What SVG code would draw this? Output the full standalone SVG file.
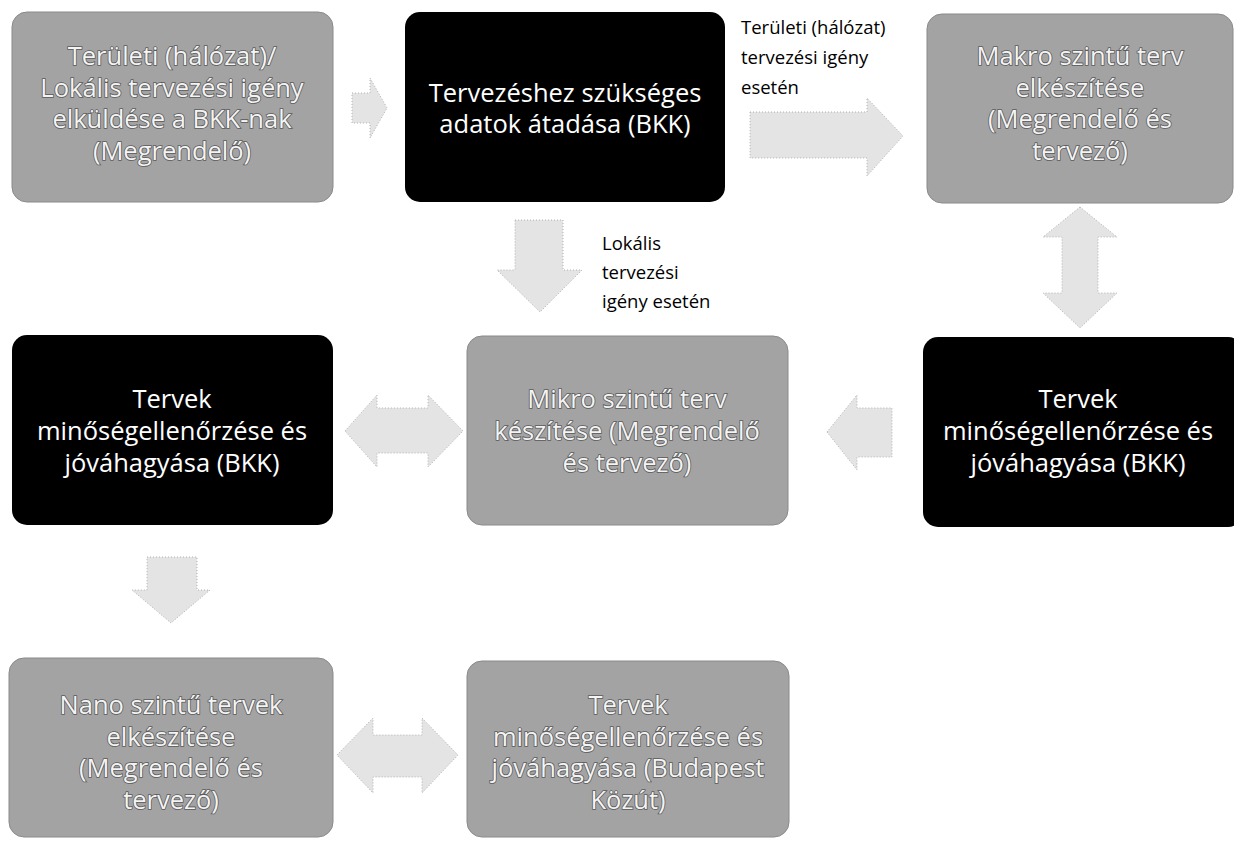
<svg xmlns="http://www.w3.org/2000/svg" width="1234" height="846" viewBox="0 0 1234 846">
<defs>
<style>
.box-gray{fill:#a3a3a3;stroke:#8a8a8a;stroke-width:1}
.box-black{fill:#000000}
.t{font-family:"Open Sans","Noto Sans","DejaVu Sans",sans-serif;font-size:25.5px;text-anchor:middle}
.tw{fill:#ffffff}
.tg{fill:#f4f4f4;stroke:#5a5a5a;stroke-width:1.6;paint-order:stroke}
.lbl{font-family:"Open Sans","Noto Sans","DejaVu Sans",sans-serif;font-size:18.5px;fill:#000000}
.arrow{fill:#e4e4e4;stroke:#b0b0b0;stroke-width:1;stroke-dasharray:1 2}
</style>
</defs>
<rect width="1234" height="846" fill="#ffffff"/>

<g id="connectors">
<polygon class="arrow" points="352,93 370,93 370,78 387,108 370,138 370,123 352,123"/>
<polygon class="arrow" points="750,112 867,112 867,98 903,136 867,176 867,158 750,158"/>
<polygon class="arrow" points="515,220 563,220 563,270 582,270 540,312 497,270 515,270"/>
<polygon class="arrow" points="1080,207 1117,237 1098,237 1098,293 1117,293 1080,328 1043,293 1062,293 1062,237 1043,237"/>
<polygon class="arrow" points="827,432 857,395 857,408 892,408 892,457 857,457 857,470"/>
<polygon class="arrow" points="345,431 377,395 377,408 428,408 428,395 463,431 428,467 428,453 377,453 377,467"/>
<polygon class="arrow" points="147,557 197,557 197,590 210,590 171,623 132,590 147,590"/>
<polygon class="arrow" points="337,755 373,718 373,735 422,735 422,718 458,755 422,793 422,777 373,777 373,793"/>
<g id="connector-labels">
<text class="lbl" x="741" y="34">Területi (hálózat)</text>
<text class="lbl" x="741" y="64">tervezési igény</text>
<text class="lbl" x="741" y="94">esetén</text>
<text class="lbl" x="602" y="250">Lokális</text>
<text class="lbl" x="602" y="279">tervezési</text>
<text class="lbl" x="602" y="308">igény esetén</text>
</g>
</g>

<g id="node1">
<rect class="box-gray" x="12" y="12" width="321" height="190" rx="15"/>
<text class="t tg" x="172" y="65">Területi (hálózat)/</text>
<text class="t tg" x="172" y="97">Lokális tervezési igény</text>
<text class="t tg" x="172" y="128">elküldése a BKK-nak</text>
<text class="t tg" x="172" y="160">(Megrendelő)</text>
</g>

<g id="node2">
<rect class="box-black" x="405" y="12" width="320" height="190" rx="15"/>
<text class="t tw" x="565" y="102">Tervezéshez szükséges</text>
<text class="t tw" x="565" y="133">adatok átadása (BKK)</text>
</g>

<g id="node3">
<rect class="box-gray" x="927" y="14" width="306" height="189" rx="15"/>
<text class="t tg" x="1080" y="65">Makro szintű terv</text>
<text class="t tg" x="1080" y="97">elkészítése</text>
<text class="t tg" x="1080" y="128">(Megrendelő és</text>
<text class="t tg" x="1080" y="160">tervező)</text>
</g>

<g id="node4">
<rect class="box-black" x="12" y="335" width="321" height="190" rx="15"/>
<text class="t tw" x="172" y="408">Tervek</text>
<text class="t tw" x="172" y="440">minőségellenőrzése és</text>
<text class="t tw" x="172" y="472">jóváhagyása (BKK)</text>
</g>

<g id="node5">
<rect class="box-gray" x="467" y="336" width="321" height="189" rx="15"/>
<text class="t tg" x="627" y="408">Mikro szintű terv</text>
<text class="t tg" x="627" y="440">készítése (Megrendelő</text>
<text class="t tg" x="627" y="472">és tervező)</text>
</g>

<g id="node6">
<rect class="box-black" x="923" y="337" width="320" height="190" rx="15"/>
<text class="t tw" x="1078" y="408">Tervek</text>
<text class="t tw" x="1078" y="440">minőségellenőrzése és</text>
<text class="t tw" x="1078" y="472">jóváhagyása (BKK)</text>
</g>

<g id="node7">
<rect class="box-gray" x="9" y="658" width="324" height="179" rx="15"/>
<text class="t tg" x="171" y="714">Nano szintű tervek</text>
<text class="t tg" x="171" y="746">elkészítése</text>
<text class="t tg" x="171" y="777">(Megrendelő és</text>
<text class="t tg" x="171" y="809">tervező)</text>
</g>

<g id="node8">
<rect class="box-gray" x="467" y="661" width="322" height="176" rx="15"/>
<text class="t tg" x="628" y="714">Tervek</text>
<text class="t tg" x="628" y="746">minőségellenőrzése és</text>
<text class="t tg" x="628" y="777">jóváhagyása (Budapest</text>
<text class="t tg" x="628" y="809">Közút)</text>
</g>
</svg>
